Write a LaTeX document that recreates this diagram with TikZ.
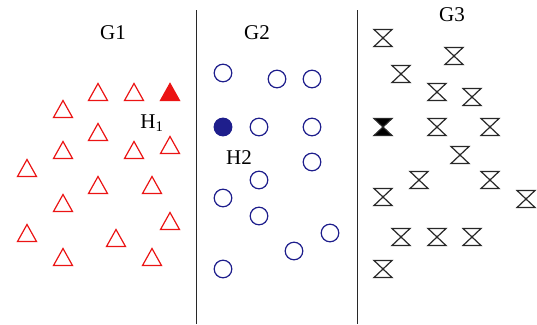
\documentclass[tikz,border=0pt]{standalone}
\usepackage{fontspec}
\setmainfont{Liberation Serif}
\definecolor{setred}{RGB}{235,20,20}
\definecolor{setblue}{RGB}{30,30,140}
\definecolor{setgray}{RGB}{40,40,40}
\tikzset{
  x=1pt, y=-1pt,
  label text/.style={font=\fontsize{21}{24}\selectfont, inner sep=0pt},
  divider/.style={draw=setgray, line width=1pt},
  tristroke/.style={draw=setred, line width=1.2pt, line join=miter},
  circstroke/.style={draw=setblue, line width=1.2pt},
  hgstroke/.style={draw=setgray, line width=1.2pt, line join=miter},
  pics/tri/.style={code={\path[tristroke] (-9.5,8.5) -- (9.5,8.5) -- (0,-8.5) -- cycle;}},
  pics/trifull/.style={code={\path[tristroke, fill=setred] (-9.5,8.5) -- (9.5,8.5) -- (0,-8.5) -- cycle;}},
  pics/ring/.style={code={\path[circstroke] (0,0) circle[radius=8.8];}},
  pics/ringfull/.style={code={\path[circstroke, fill=setblue] (0,0) circle[radius=8.8];}},
  pics/hg/.style={code={\path[hgstroke] (-9,-8.5) -- (9,-8.5) -- (-9,8.5) -- (9,8.5) -- cycle;}},
  pics/hgfull/.style={code={\path[hgstroke, fill=black] (-9,-8.5) -- (9,-8.5) -- (-9,8.5) -- (9,8.5) -- cycle;}},
}
\begin{document}
\begin{tikzpicture}
\useasboundingbox (0,0) rectangle (537,324);

% dividers between the three groups
\coordinate (d1top) at (196,10);
\coordinate (d1bot) at (196,324);
\coordinate (d2top) at (357,10);
\coordinate (d2bot) at (357,324);
\draw[divider] (d1top) -- (d1bot);
\draw[divider] (d2top) -- (d2bot);

% group titles
\node[label text] (g1) at (113,33) {G1};
\node[label text] (g2) at (257,33) {G2};
\node[label text] (g3) at (452,15) {G3};
\node[label text] (h1) at (152,123) {H\textsubscript{1}};
\node[label text] (h2) at (239,158) {H2};

% group 1: triangles
\foreach \p in {(98,92),(134,92),(63,109),(98,132),(63,150),(134,150),(170,145),
                (27,168),(98,185),(152,185),(63,203),(170,221),(27,233),(116,238),
                (63,257),(152,257)}
  \pic at \p {tri};
\pic at (170,92) {trifull};

% group 2: circles
\foreach \p in {(223,73),(277,79),(312,79),(259,127),(312,127),(312,162),(259,180),
                (223,198),(259,216),(330,233),(294,251),(223,269)}
  \pic at \p {ring};
\pic at (223,127) {ringfull};

% group 3: hourglasses
\foreach \p in {(383,38),(454,56),(401,74),(437,92),(472,97),(437,127),(490,127),
                (460,155),(419,180),(490,180),(383,197),(526,199),(401,237),
                (437,237),(472,237),(383,269)}
  \pic at \p {hg};
\pic at (383,127) {hgfull};
\end{tikzpicture}
\end{document}
